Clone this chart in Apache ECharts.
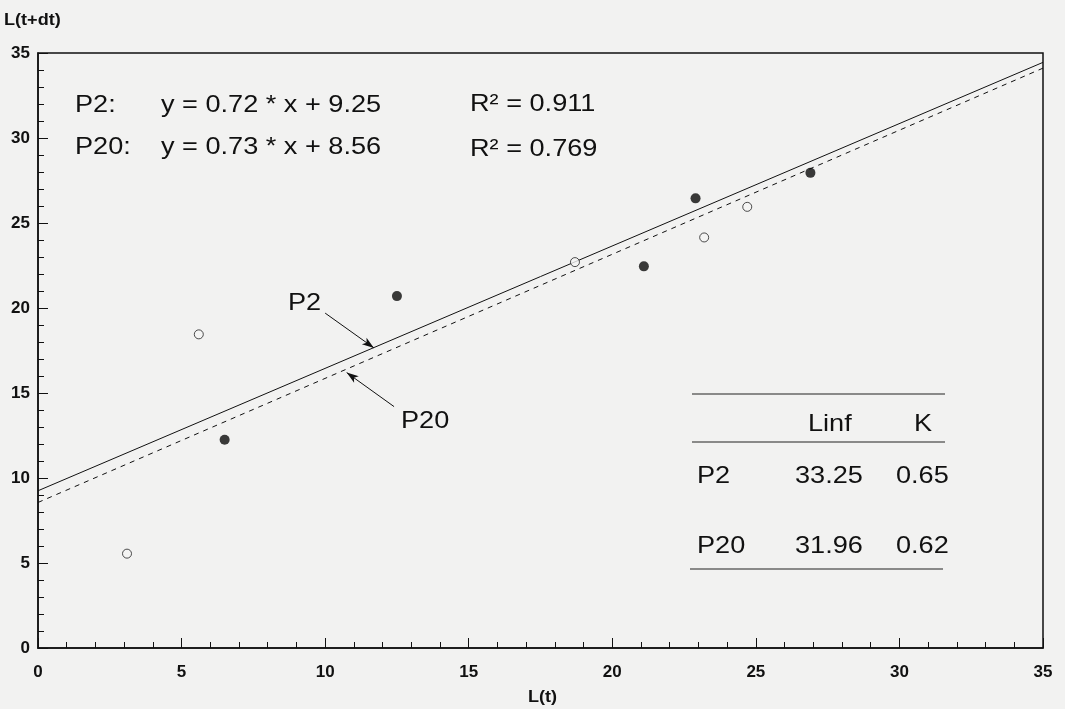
<!DOCTYPE html>
<html>
<head>
<meta charset="utf-8">
<script src="https://cdn.jsdelivr.net/npm/echarts@6/dist/echarts.min.js"></script>
<style>
html,body{margin:0;padding:0;background:#f2f2f1;}
#c{width:1065px;height:709px;}
</style>
</head>
<body>
<div id="c"></div>
<script>
// ---- data ----
const p2X = [6.5, 12.5, 21.1, 22.9, 26.9];
const p2Y = [12.25, 20.7, 22.45, 26.45, 27.95];
const p20X = [3.1, 5.6, 18.7, 23.2, 24.7];
const p20Y = [5.55, 18.45, 22.7, 24.15, 25.95];
const groups = ['P2', 'P20'];
const slopes = [0.72, 0.73];
const intercepts = [9.25, 8.56];
const r2 = [0.911, 0.769];
const linf = ['33.25', '31.96'];
const kVals = ['0.65', '0.62'];
const xTicks = [0, 5, 10, 15, 20, 25, 30, 35];
const yTicks = [0, 5, 10, 15, 20, 25, 30, 35];

const FONT = "'Liberation Sans', Arial, sans-serif";
const xMin = xTicks[0], xMax = xTicks[xTicks.length - 1];

function fitLine(i) {
  return [[xMin, slopes[i] * xMin + intercepts[i]], [xMax, slopes[i] * xMax + intercepts[i]]];
}

const chart = echarts.init(document.getElementById('c'));
const SX = 1.13;
const txt = (x, y, s, font) => ({
  type: 'text', x: x, y: y, scaleX: SX,
  style: { text: s, font: font || ('24px ' + FONT), fill: '#111', textVerticalAlign: 'middle' }
});
const hline = (x1, x2, y) => ({
  type: 'line', shape: { x1: x1, y1: y, x2: x2, y2: y },
  style: { stroke: '#222', lineWidth: 1.2 }
});

chart.setOption({
  backgroundColor: '#f2f2f1',
  animation: false,
  grid: {
    left: 38, right: 22, top: 53, bottom: 61,
    show: true, borderColor: '#111', borderWidth: 1.5, backgroundColor: 'transparent'
  },
  xAxis: {
    type: 'value', min: xMin, max: xMax, interval: 5,
    axisLine: { show: true, lineStyle: { color: '#111', width: 1.5 } },
    axisTick: { show: true, inside: true, length: 10, lineStyle: { color: '#111' } },
    minorTick: { show: true, splitNumber: 5, length: 6, lineStyle: { color: '#111' } },
    splitLine: { show: false },
    axisLabel: { margin: 16, fontSize: 17, fontWeight: 'bold', color: '#111', fontFamily: FONT }
  },
  yAxis: {
    type: 'value', min: yTicks[0], max: yTicks[yTicks.length - 1], interval: 5,
    axisLine: { show: true, lineStyle: { color: '#111', width: 1.5 } },
    axisTick: { show: true, inside: true, length: 10, lineStyle: { color: '#111' } },
    minorTick: { show: true, splitNumber: 5, length: 6, lineStyle: { color: '#111' } },
    splitLine: { show: false },
    axisLabel: { margin: 8, fontSize: 17, fontWeight: 'bold', color: '#111', fontFamily: FONT }
  },
  series: [
    {
      name: 'P2 fit', type: 'line', data: fitLine(0), showSymbol: false, symbol: 'none',
      lineStyle: { color: '#111', width: 1 }, z: 2,
      markLine: {
        silent: true, symbol: ['none', 'arrow'], symbolSize: [6, 12],
        lineStyle: { color: '#111', width: 1, type: 'solid' }, label: { show: false },
        data: [[{ coord: [10.0, 19.7] }, { coord: [11.7, 17.65] }]]
      }
    },
    {
      name: 'P20 fit', type: 'line', data: fitLine(1), showSymbol: false, symbol: 'none',
      lineStyle: { color: '#111', width: 1, type: [5, 5] }, z: 2,
      markLine: {
        silent: true, symbol: ['none', 'arrow'], symbolSize: [6, 12],
        lineStyle: { color: '#111', width: 1, type: 'solid' }, label: { show: false },
        data: [[{ coord: [12.4, 14.2] }, { coord: [10.75, 16.2] }]]
      }
    },
    {
      name: 'P2', type: 'scatter', data: p2X.map((x, i) => [x, p2Y[i]]),
      symbol: 'circle', symbolSize: 10, itemStyle: { color: '#0a0a0a' }, z: 3
    },
    {
      name: 'P20', type: 'scatter', data: p20X.map((x, i) => [x, p20Y[i]]),
      symbol: 'circle', symbolSize: 9,
      itemStyle: { color: '#f4f4f4', borderColor: '#222', borderWidth: 1 }, z: 3
    }
  ],
  graphic: [
    txt(4, 21, 'L(t+dt)', 'bold 16px ' + FONT),
    txt(528, 698, 'L(t)', 'bold 16px ' + FONT),
    // equations
    txt(75, 105, groups[0] + ':'),
    txt(161, 105, 'y = ' + slopes[0].toFixed(2) + ' * x + ' + intercepts[0].toFixed(2)),
    txt(470, 104, 'R² = ' + r2[0].toFixed(3)),
    txt(75, 147, groups[1] + ':'),
    txt(161, 147, 'y = ' + slopes[1].toFixed(2) + ' * x + ' + intercepts[1].toFixed(2)),
    txt(470, 149, 'R² = ' + r2[1].toFixed(3)),
    // arrow labels
    txt(288, 303, groups[0]),
    txt(401, 421, groups[1]),
    // table
    hline(692, 945, 394),
    hline(692, 945, 442),
    hline(690, 943, 569),
    txt(808, 424, 'Linf'),
    txt(914, 424, 'K'),
    txt(697, 476, groups[0]),
    txt(795, 476, linf[0]),
    txt(896, 476, kVals[0]),
    txt(697, 546, groups[1]),
    txt(795, 546, linf[1]),
    txt(896, 546, kVals[1])
  ]
});
</script>
</body>
</html>
